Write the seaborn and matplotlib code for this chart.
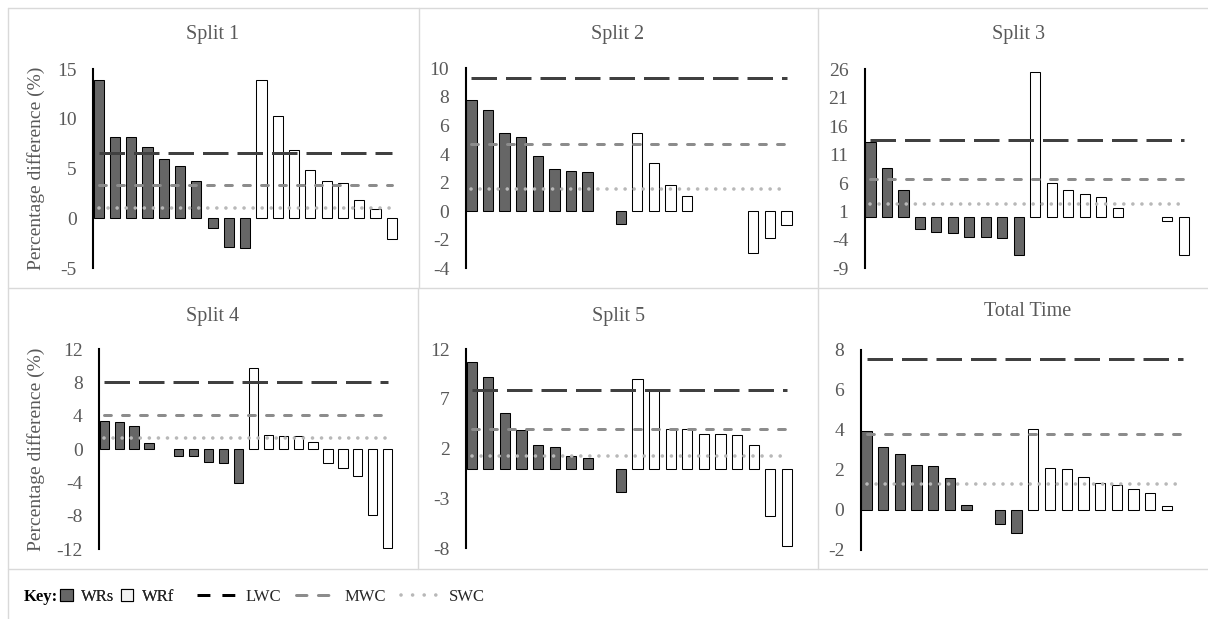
import numpy as np
import pandas as pd
import matplotlib
matplotlib.use("Agg")
import matplotlib.pyplot as plt
from matplotlib.lines import Line2D
from matplotlib.patches import Patch
import seaborn as sns

# ---------------- data ----------------
titles = ["Split 1", "Split 2", "Split 3", "Split 4", "Split 5", "Total Time"]

split1_wrs = [13.9, 8.2, 8.2, 7.2, 6.0, 5.3, 3.75, -0.98, -2.84, -2.97]
split1_wrf = [13.9, 10.3, 6.9, 4.9, 3.8, 3.55, 1.86, 0.95, -2.03]
split1_lines = [6.6, 3.35, 1.1]

split2_wrs = [7.8, 7.1, 5.5, 5.2, 3.85, 2.95, 2.8, 2.75, None, -0.9]
split2_wrf = [5.5, 3.35, 1.85, 1.05, None, None, None, -2.9, -1.85, -1.0]
split2_lines = [9.3, 4.7, 1.55]

split3_wrs = [13.3, 8.7, 4.8, -2.0, -2.6, -2.8, -3.45, -3.45, -3.75, -6.6]
split3_wrf = [25.6, 6.0, 4.75, 4.05, 3.5, 1.65, None, None, -0.7, -6.6]
split3_lines = [13.6, 6.75, 2.35]

split4_wrs = [3.35, 3.25, 2.85, 0.75, None, -0.8, -0.8, -1.55, -1.7, -4.05]
split4_wrf = [9.7, 1.7, 1.6, 1.6, 0.85, -1.7, -2.2, -3.2, -7.85, -11.85]
split4_lines = [8.1, 4.1, 1.4]

split5_wrs = [10.7, 9.2, 5.6, 3.85, 2.4, 2.15, 1.25, 1.1, None, -2.35]
split5_wrf = [8.95, 7.8, 3.95, 3.95, 3.45, 3.45, 3.35, 2.4, -4.8, -7.75]
split5_lines = [7.9, 3.95, 1.3]

total_wrs = [3.95, 3.15, 2.8, 2.25, 2.2, 1.6, 0.25, None, -0.7, -1.15]
total_wrf = [4.05, 2.1, 2.05, 1.65, 1.35, 1.25, 1.05, 0.85, 0.2, None]
total_lines = [7.55, 3.8, 1.3]

yticks_list = [
    [-5, 0, 5, 10, 15],
    [-4, -2, 0, 2, 4, 6, 8, 10],
    [-9, -4, 1, 6, 11, 16, 21, 26],
    [-12, -8, -4, 0, 4, 8, 12],
    [-8, -3, 2, 7, 12],
    [-2, 0, 2, 4, 6, 8],
]
line_names = ["LWC", "MWC", "SWC"]

panels = [
    (split1_wrs, split1_wrf, split1_lines),
    (split2_wrs, split2_wrf, split2_lines),
    (split3_wrs, split3_wrf, split3_lines),
    (split4_wrs, split4_wrf, split4_lines),
    (split5_wrs, split5_wrf, split5_lines),
    (total_wrs, total_wrf, total_lines),
]

# ---------------- layout (pixels) ----------------
W, H = 1208, 619
# left, width, top, bottom
boxes = [
    (93.3, 306.6, 69.0, 268.3),
    (466.0, 328.8, 68.3, 268.3),
    (865.0, 326.9, 69.3, 268.3),
    (99.3, 295.8, 349.3, 549.3),
    (466.3, 328.8, 349.0, 548.3),
    (861.0, 330.8, 350.0, 550.0),
]
title_pos = [(213, 35), (618, 35), (1018, 35), (213, 317), (618, 317), (1028, 311)]

sns.set_theme(style="white")
plt.rcParams["font.family"] = ["Liberation Serif", "DejaVu Serif"]

GRAY_TXT = "#595959"
DARK = "#666666"
BW = 0.62
LW = 2.16

line_styles = [
    dict(color="#404040", lw=LW, dashes=(8.5, 3.0), dash_capstyle="butt"),
    dict(color="#8c8c8c", lw=LW, dashes=(2.3, 3.7), dash_capstyle="round"),
    dict(color="#b8b8b8", lw=2.6, dashes=(0.01, 2.5), dash_capstyle="round"),
]

fig = plt.figure(figsize=(W / 100, H / 100), dpi=100)

for i, ((wrs, wrf, lines), (l, w, t, b)) in enumerate(zip(panels, boxes)):
    ax = fig.add_axes([l / W, 1 - b / H, w / W, (b - t) / H])
    vals = list(wrs) + list(wrf)
    groups = ["WRs"] * len(wrs) + ["WRf"] * len(wrf)
    n = len(vals)
    slots = [str(k) for k in range(n)]
    df = pd.DataFrame({"slot": slots, "value": vals, "group": groups}).dropna()
    sns.barplot(data=df, x="slot", y="value", hue="group", order=slots,
                hue_order=["WRs", "WRf"],
                palette={"WRs": DARK, "WRf": "white"}, dodge=False,
                width=BW, edgecolor="black", linewidth=0.75,
                errorbar=None, legend=False, ax=ax)
    for v, st in zip(lines, line_styles):
        ax.plot([0, n - 1], [v, v], zorder=5, **st)
    yt = yticks_list[i]
    ax.set_ylim(yt[0], yt[-1])
    ax.set_yticks(yt)
    ax.set_yticklabels([str(v) for v in yt])
    ax.set_xlim(-BW / 2 - 0.02, n - 0.5)
    ax.set_xticks([])
    ax.set_xlabel("")
    ax.set_ylabel("")
    for s in ["top", "right", "bottom"]:
        ax.spines[s].set_visible(False)
    ax.spines["left"].set_color("black")
    ax.spines["left"].set_linewidth(1.5)
    ax.tick_params(axis="y", length=0, pad=12, labelsize=14, labelcolor=GRAY_TXT)
    ax.patch.set_alpha(0)
    if i in (0, 3):
        ax.set_ylabel("Percentage difference (%)", fontsize=14, color=GRAY_TXT)
        ax.yaxis.set_label_coords((45 - l) / w, 0.5)
    tx, ty = title_pos[i]
    fig.text(tx / W, 1 - ty / H, titles[i], ha="center", va="center",
             fontsize=14.5, color=GRAY_TXT)

# ---------------- panel borders ----------------
BC = "#d9d9d9"
def hline(y, x0, x1):
    fig.add_artist(Line2D([x0 / W, x1 / W], [1 - y / H, 1 - y / H], color=BC, lw=1.0))
def vline(x, y0, y1):
    fig.add_artist(Line2D([x / W, x / W], [1 - y0 / H, 1 - y1 / H], color=BC, lw=1.0))
hline(7.5, 8, 1208)
hline(288, 8, 1208)
hline(569, 8, 1208)
vline(8, 7.5, 619)
vline(418.5, 7.5, 288)
vline(418, 288, 569)
vline(818, 7.5, 569)

# ---------------- key ----------------
ky = 1 - 597 / H
fig.text(24 / W, ky, "Key:", fontweight="bold", fontsize=12, color="black",
         ha="left", va="center")
patch_handles = [Patch(facecolor=DARK, edgecolor="black", linewidth=0.8),
                 Patch(facecolor="#f2f2f2", edgecolor="black", linewidth=0.8)]
leg1 = fig.legend(patch_handles, ["WRs", "WRf"], loc="center left",
                  bbox_to_anchor=(60 / W, ky), ncol=2, frameon=False,
                  handlelength=0.75, handleheight=0.75, handletextpad=0.5,
                  columnspacing=0.4, borderpad=0, borderaxespad=0,
                  fontsize=12, labelcolor="#262626")
key_lines = [
    Line2D([], [], color="black", lw=LW, dashes=(4.3, 4.0)),
    Line2D([], [], color="#8c8c8c", lw=LW, dashes=(3.5, 3.8), dash_capstyle="round"),
    Line2D([], [], color="#b8b8b8", lw=2.6, dashes=(0.01, 3.2), dash_capstyle="round"),
]
leg2 = fig.legend(key_lines, line_names, loc="center left",
                  bbox_to_anchor=(197 / W, ky), ncol=3, frameon=False,
                  handlelength=2.3, handletextpad=0.6, columnspacing=0.9,
                  borderpad=0, borderaxespad=0, fontsize=12, labelcolor="#262626")
fig.add_artist(leg1)

fig.savefig("out.png", dpi=100, facecolor="white")
